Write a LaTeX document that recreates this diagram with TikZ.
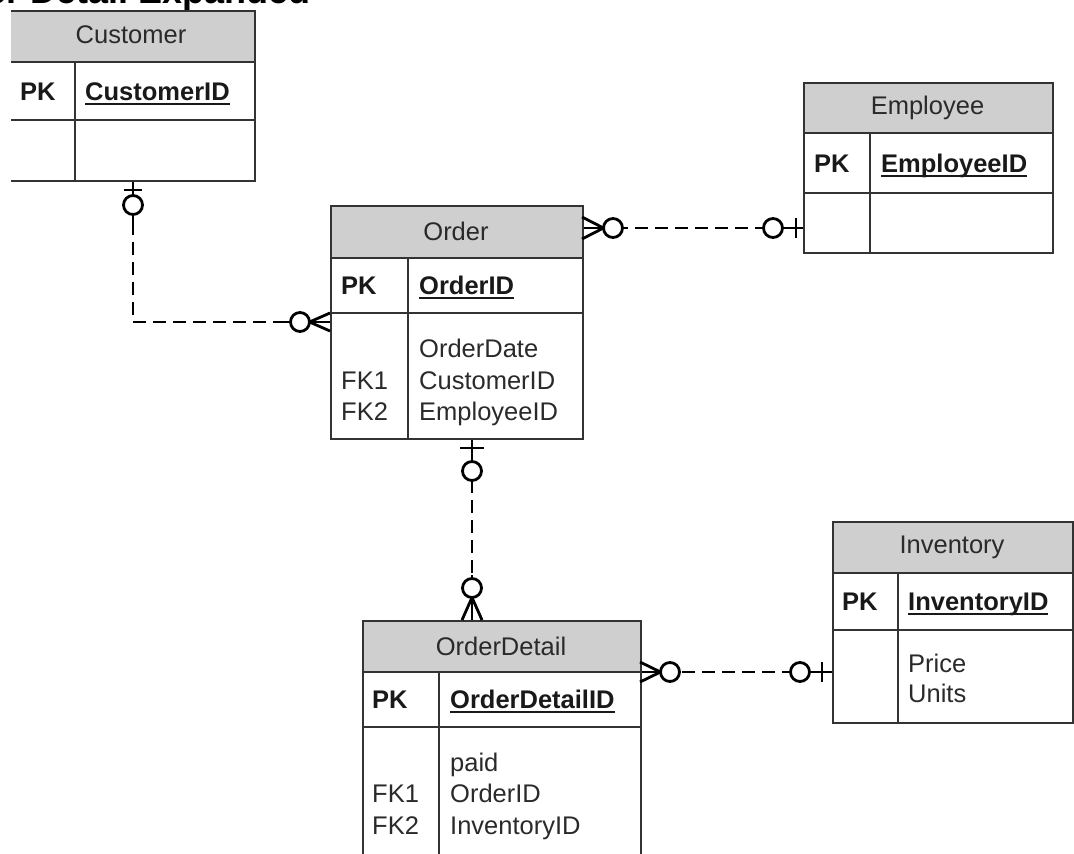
\documentclass[tikz,border=0pt]{standalone}
\usepackage{fontspec}
\setmainfont{Liberation Sans}
\definecolor{bord}{HTML}{333333}
\definecolor{hdr}{HTML}{CFCFCF}
\definecolor{txtc}{HTML}{2A2A2A}
\newcommand\keyul[1]{\setbox0=\hbox{#1}\rlap{\rule[-4.5pt]{\wd0}{2pt}}\box0}
\begin{document}
\begin{tikzpicture}[x=1pt,y=-1pt,
  ebox/.style={draw=bord, line width=2.2pt, rectangle, inner sep=0pt, anchor=north west},
  sep/.style={draw=bord, line width=2.2pt},
  htxt/.style={font=\fontsize{25.5}{30}\selectfont, text=txtc, inner sep=0pt},
  etxt/.style={font=\fontsize{25.5}{30}\selectfont, text=txtc, anchor=base west, inner sep=0pt},
  ktxt/.style={font=\fontsize{25.5}{30}\selectfont\bfseries, text=black!90, anchor=base west, inner sep=0pt},
  rel/.style={line width=2.8pt, draw=black},
  dsh/.style={rel, dash pattern=on 13pt off 7pt},
  ring/.style={rel, fill=white}]
\useasboundingbox (0,0) rectangle (1074,854);
\clip (0,0) rectangle (1074,854);

% title (cut by the top edge, as in the source)
\node[font=\fontsize{36}{40}\selectfont\bfseries, anchor=base west, inner sep=0pt] (title) at (-78,3) {Order Detail Expanded};

% Customer
\begin{scope}
\clip (11,0) rectangle (300,200);
\fill[hdr] (8,10) rectangle (254,62);
\node[ebox, minimum width=246pt, minimum height=170pt] (customer) at (8,10) {};
\draw[sep] (8,62) -- (254,62) (8,120) -- (254,120) (75,62) -- (75,180);
\end{scope}
\node[htxt] (customerT) at (131,34.5) {Customer};
\node[ktxt] (customerPK) at (20,100) {PK};
\node[ktxt] (customerK) at (85,100) {\keyul{CustomerID}};

% Order
\fill[hdr] (330,205) rectangle (582,258);
\node[ebox, minimum width=252pt, minimum height=233pt] (order) at (330,205) {};
\draw[sep] (330,258) -- (582,258) (330,313) -- (582,313) (408,258) -- (408,438);
\node[htxt] (orderT) at (456,231.5) {Order};
\node[ktxt] (orderPK) at (341,294.5) {PK};
\node[ktxt] (orderK) at (419,294.5) {\keyul{OrderID}};
\node[etxt] (orderA1) at (419,357) {OrderDate};
\node[etxt] (orderF1) at (341,389) {FK1};
\node[etxt] (orderA2) at (419,389) {CustomerID};
\node[etxt] (orderF2) at (341,420) {FK2};
\node[etxt] (orderA3) at (419,420) {EmployeeID};

% Employee
\fill[hdr] (803,82) rectangle (1052,133);
\node[ebox, minimum width=249pt, minimum height=170pt] (employee) at (803,82) {};
\draw[sep] (803,133) -- (1052,133) (803,193) -- (1052,193) (870,133) -- (870,252);
\node[htxt] (employeeT) at (927.5,107.5) {Employee};
\node[ktxt] (employeePK) at (814,172) {PK};
\node[ktxt] (employeeK) at (881,172) {\keyul{EmployeeID}};

% Inventory
\fill[hdr] (832,521) rectangle (1072,573);
\node[ebox, minimum width=240pt, minimum height=201pt] (inventory) at (832,521) {};
\draw[sep] (832,573) -- (1072,573) (832,630) -- (1072,630) (898,573) -- (898,722);
\node[htxt] (inventoryT) at (952,547) {Inventory};
\node[ktxt] (inventoryPK) at (842,610.5) {PK};
\node[ktxt] (inventoryK) at (908,610.5) {\keyul{InventoryID}};
\node[etxt] (inventoryA1) at (908,672) {Price};
\node[etxt] (inventoryA2) at (908,702) {Units};

% OrderDetail
\fill[hdr] (362,620) rectangle (640,672);
\node[ebox, minimum width=278pt, minimum height=250pt] (orderdetail) at (362,620) {};
\draw[sep] (362,672) -- (640,672) (362,727) -- (640,727) (439,672) -- (439,870);
\node[htxt] (orderdetailT) at (501,646) {OrderDetail};
\node[ktxt] (orderdetailPK) at (372,708.5) {PK};
\node[ktxt] (orderdetailK) at (450,708.5) {\keyul{OrderDetailID}};
\node[etxt] (odA1) at (450,771) {paid};
\node[etxt] (odF1) at (372,802) {FK1};
\node[etxt] (odA2) at (450,802) {OrderID};
\node[etxt] (odF2) at (372,834) {FK2};
\node[etxt] (odA3) at (450,834) {InventoryID};

% connector helpers
\coordinate (k1) at (133,322);
\coordinate (k2) at (700,228);
\coordinate (k3) at (472,530);
\coordinate (k4) at (736,672);

% Customer -- Order
\draw[dsh] (customer.south -| k1) |- (order.west |- k1);
\draw[rel] (customer.south -| k1) -- (133,224);
\draw[rel] (124,190) -- (142,190);
\draw[ring] (133,205) circle (9.5);
\draw[rel] (282,322) -- (order.west |- k1);
\draw[rel] (330,313) -- (309.5,322) -- (330,331);
\draw[ring] (300,322) circle (9.5);

% Order -- Employee
\draw[dsh, dash phase=9pt] (order.east |- k2) -- (employee.west |- k2);
\draw[rel] (order.east |- k2) -- (623,228);
\draw[rel] (582,217) -- (603.5,228) -- (582,239);
\draw[ring] (613,228) circle (9.5);
\draw[rel] (760,228) -- (employee.west |- k2);
\draw[ring] (773,228) circle (9.5);
\draw[rel] (796,218) -- (796,238);

% Order -- OrderDetail
\draw[dsh] (order.south -| k3) -- (orderdetail.north -| k3);
\draw[rel] (order.south -| k3) -- (472,488);
\draw[rel] (460,448) -- (484,448);
\draw[ring] (472,471) circle (9.5);
\draw[rel] (472,575) -- (orderdetail.north -| k3);
\draw[rel] (462,620) -- (472,597.5) -- (482,620);
\draw[ring] (472,588) circle (9.5);

% OrderDetail -- Inventory
\draw[dsh] (orderdetail.east |- k4) -- (inventory.west |- k4);
\draw[rel] (orderdetail.east |- k4) -- (661,672);
\draw[rel] (640,662) -- (660.5,672) -- (640,682);
\draw[ring] (670,672) circle (9.5);
\draw[rel] (788,672) -- (inventory.west |- k4);
\draw[ring] (800,672) circle (9.5);
\draw[rel] (822,662) -- (822,682);
\end{tikzpicture}
\end{document}
